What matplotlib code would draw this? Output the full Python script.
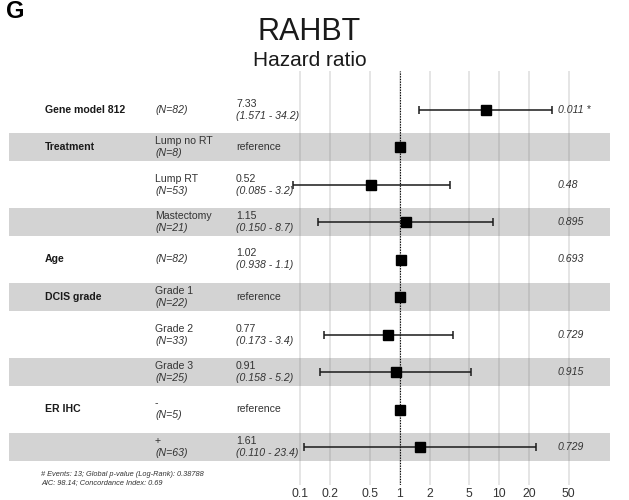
import numpy as np
import matplotlib
matplotlib.use("Agg")
import matplotlib.pyplot as plt
from matplotlib.transforms import blended_transform_factory

plt.rcParams['font.family'] = ['Liberation Sans', 'DejaVu Sans']

# Cox model summary
variables = ['Gene model 812', 'Treatment', '', '', 'Age', 'DCIS grade', '', '', 'ER IHC', '']
levels = ['', 'Lump no RT', 'Lump RT', 'Mastectomy', '', 'Grade 1', 'Grade 2', 'Grade 3', '-', '+']
n_obs = [82, 8, 53, 21, 82, 22, 33, 25, 5, 63]
hazard = [7.33, 1.0, 0.52, 1.15, 1.02, 1.0, 0.77, 0.91, 1.0, 1.61]
ci_low = [1.571, np.nan, 0.085, 0.150, 0.938, np.nan, 0.173, 0.158, np.nan, 0.110]
ci_high = [34.2, np.nan, 3.2, 8.7, 1.1, np.nan, 3.4, 5.2, np.nan, 23.4]
p_labels = ['0.011 *', '', '0.48', '0.895', '0.693', '', '0.729', '0.915', '', '0.729']
x_ticks = [0.1, 0.2, 0.5, 1, 2, 5, 10, 20, 50]
footnote = ["# Events: 13; Global p-value (Log-Rank): 0.38788",
            "AIC: 98.14; Concordance Index: 0.69"]

W, H = 629, 500
fig = plt.figure(figsize=(W / 100, H / 100), dpi=100)

# axes box in pixels: left, right, top, bottom
L, R, T, B = 9, 610, 71, 485
ax = fig.add_axes([L / W, 1 - B / H, (R - L) / W, (B - T) / H])

# log axis calibrated so that 1 sits at x=399.7 px with 99.5 px per decade
px_one, px_dec = 399.7, 99.5
ax.set_xscale('log')
ax.set_xlim(10 ** ((L - px_one) / px_dec), 10 ** ((R - px_one) / px_dec))

row_px0, row_step = 109.5, 37.5
ax.set_ylim((B - row_px0) / row_step, (T - row_px0) / row_step)

nrows = len(hazard)
rows = np.arange(nrows)

# alternating bands
for i in rows:
    if i % 2 == 1:
        ax.axhspan(i - 0.373, i + 0.373, color='#7a7a7a', alpha=0.33, lw=0, zorder=1)

ax.set_xticks(x_ticks)
ax.set_xticklabels([f'{t:g}' for t in x_ticks])
ax.minorticks_off()
ax.tick_params(axis='x', length=0, pad=2, labelsize=8.8, labelcolor='#333333')
ax.tick_params(axis='y', left=False, labelleft=False)
ax.grid(axis='x', color='#e3e3e3', lw=1.3, zorder=0)
ax.set_axisbelow(True)
for s in ax.spines.values():
    s.set_visible(False)

ax.axvline(1, color='black', lw=0.8, ls=(0, (1.2, 1.2)), zorder=3)

# confidence intervals and point estimates
lo = np.array(ci_low)
hi = np.array(ci_high)
hr = np.array(hazard)
has_ci = ~np.isnan(lo)
ax.errorbar(hr[has_ci], rows[has_ci],
            xerr=[hr[has_ci] - lo[has_ci], hi[has_ci] - hr[has_ci]],
            fmt='none', ecolor='#1a1a1a', elinewidth=1.1, capsize=2.6, capthick=1.1, zorder=4)
ax.plot(hr, rows, 's', color='black', markersize=6.6, zorder=5)

# table columns
tr = blended_transform_factory(ax.transAxes, ax.transData)
def fx(px):
    return (px - L) / (R - L)

fs = 7.6
dy = 0.16
for i in rows:
    if variables[i]:
        ax.text(fx(45), i, variables[i], transform=tr, ha='left', va='center',
                fontsize=fs, fontweight='bold', color='#1a1a1a', zorder=6)
    if levels[i]:
        ax.text(fx(155), i - dy, levels[i], transform=tr, ha='left', va='center',
                fontsize=fs, color='#333333', zorder=6)
        ax.text(fx(155), i + dy, f'(N={n_obs[i]})', transform=tr, ha='left', va='center',
                fontsize=fs, style='italic', color='#333333', zorder=6)
    else:
        ax.text(fx(155), i, f'(N={n_obs[i]})', transform=tr, ha='left', va='center',
                fontsize=fs, style='italic', color='#333333', zorder=6)
    if has_ci[i]:
        ax.text(fx(236), i - dy, f'{hr[i]:.2f}', transform=tr, ha='left', va='center',
                fontsize=fs, color='#333333', zorder=6)
        ax.text(fx(236), i + dy, f'({lo[i]:.3f} - {hi[i]:.1f})', transform=tr,
                ha='left', va='center', fontsize=fs, style='italic', color='#333333', zorder=6)
    else:
        ax.text(fx(236), i, 'reference', transform=tr, ha='left', va='center',
                fontsize=fs, color='#333333', zorder=6)
    if p_labels[i]:
        ax.text(fx(558), i, p_labels[i], transform=tr, ha='left', va='center',
                fontsize=fs, style='italic', color='#333333', zorder=6)

# titles
fig.text(309 / W, 1 - 40 / H, 'RAHBT', ha='center', va='baseline', fontsize=22, color='#1a1a1a')
fig.text(309.5 / W, 1 - 66.5 / H, 'Hazard ratio', ha='center', va='baseline', fontsize=15, color='#1a1a1a')
fig.text(6 / W, 1 - 18.5 / H, 'G', ha='left', va='baseline', fontsize=17, fontweight='bold', color='black')

# model statistics
fig.text(41 / W, 1 - 474.5 / H, footnote[0], ha='left', va='center', fontsize=5.3,
         style='italic', color='#333333')
fig.text(41 / W, 1 - 482.5 / H, footnote[1], ha='left', va='center', fontsize=5.3,
         style='italic', color='#333333')

fig.savefig('out.png', dpi=100)
